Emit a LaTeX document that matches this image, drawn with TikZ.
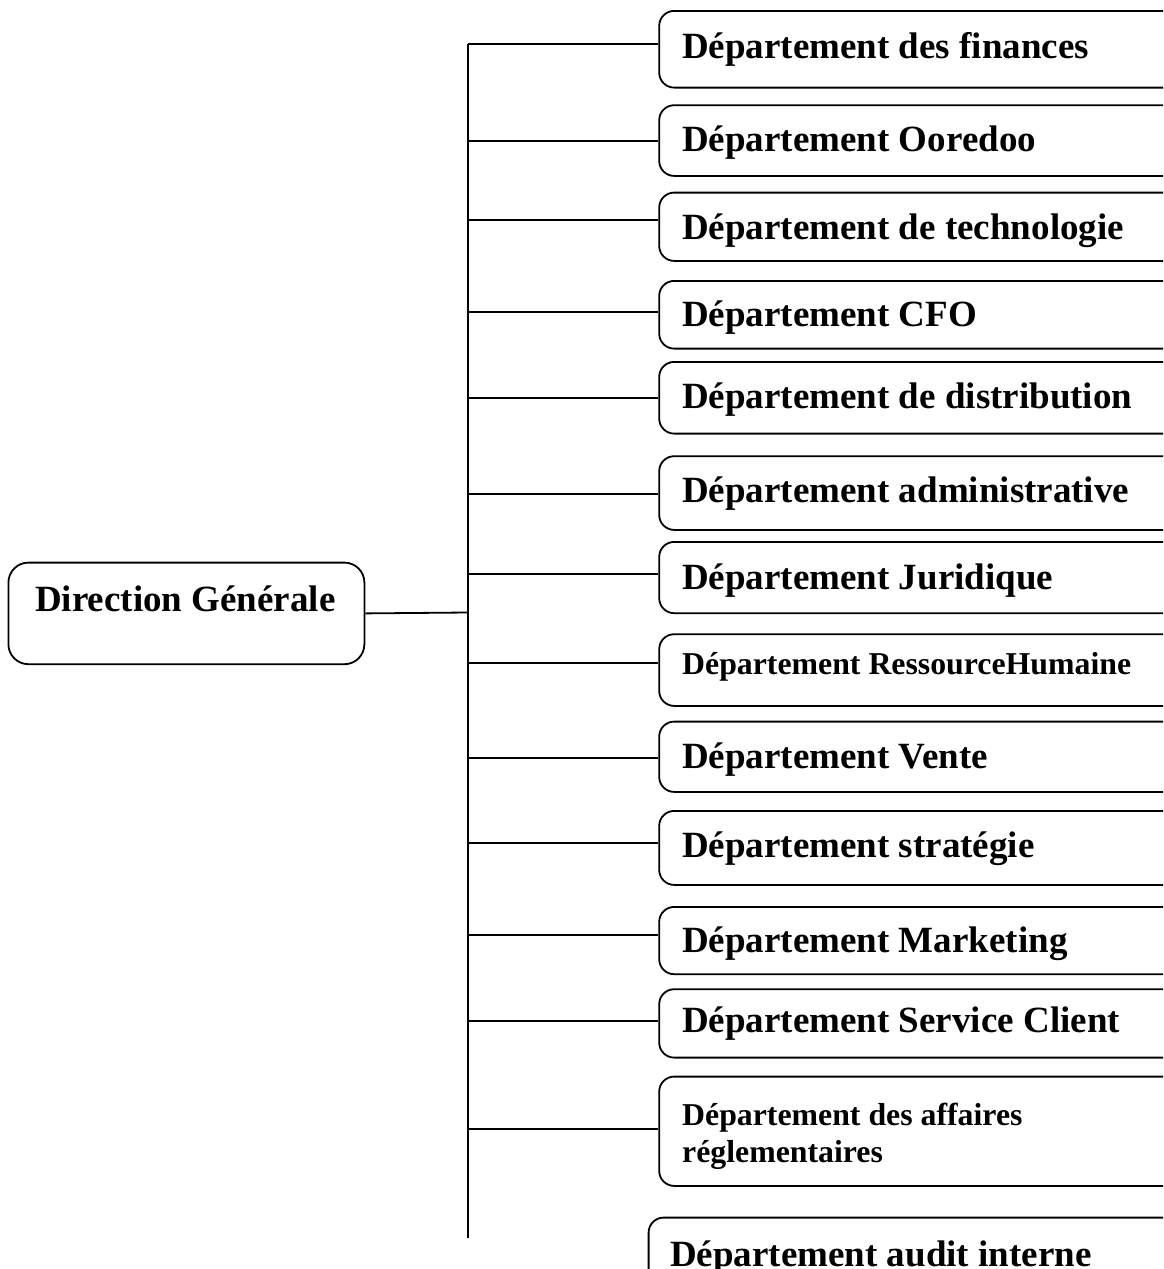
\documentclass[tikz,border=0pt]{standalone}
\usepackage{fontspec}
\setmainfont{Liberation Serif}
\usetikzlibrary{calc}
\tikzset{
  dept/.style={draw, line width=1.8pt, rounded corners=15pt, inner sep=0pt, anchor=north west, minimum width=600pt},
  dirbox/.style={draw, line width=1.8pt, rounded corners=20pt, inner sep=0pt, anchor=north west, minimum width=356pt, minimum height=101.6pt},
  bigtxt/.style={inner sep=0pt, anchor=base west, font=\fontsize{37}{42}\selectfont\bfseries},
  smalltxt/.style={inner sep=0pt, anchor=base west, align=left, font=\fontsize{31.8}{36.7}\selectfont\bfseries},
  conn/.style={line width=1.8pt},
  trunkline/.style={line width=2.2pt}
}
\begin{document}
\begin{tikzpicture}[x=1pt,y=-1pt]
\useasboundingbox (0,0) rectangle (1163,1269);
\clip (0,0) rectangle (1163,1269);
\fill[white] (0,0) rectangle (1163,1269);

% Direction Generale
\node[dirbox] (dg) at (7.5,561.7) {};
\node[bigtxt] (dgt) at (35,611.7) {Direction Générale};

% trunk
\coordinate (ttop) at (467.7,44);
\coordinate (tbot) at (467.7,1238.3);
\coordinate (tdg) at (467.7,612.5);
\draw[trunkline] (ttop) -- (tbot);
\draw[conn] (dg.east) -- (tdg);

% departments: top, height, connector y, text baseline
\foreach \i/\top/\h/\cy/\bl/\txt in {
  1/10/76.7/44/58/{Département des finances},
  2/104.3/70.7/140.7/151/{Département Ooredoo},
  3/191.7/68.3/220/239/{Département de technologie},
  4/280/67.7/312.3/326/{Département CFO},
  5/361/71.7/398.3/408/{Département de distribution},
  6/455.3/73.7/494/502/{Département administrative},
  7/541/71.3/574/589/{Département Juridique},
  9/720.7/70.3/757.7/768/{Département Vente},
  10/810/74/843.3/857/{Département stratégie},
  11/906/67.3/935.3/952/{Département Marketing},
  12/988.3/68.4/1020.7/1032/{Département Service Client}}
{
  \node[dept, minimum height=\h pt] (b\i) at (658.3,\top) {};
  \node[bigtxt] (l\i) at (682,\bl) {\txt};
  \coordinate (t\i) at (467.7,\cy);
  \draw[conn] (t\i) -- (t\i -| b\i.west);
}

% Ressource Humaine (smaller text)
\node[dept, minimum height=71.7pt] (b8) at (658.3,633.3) {};
\node[smalltxt] (l8) at (682,674) {Département RessourceHumaine};
\coordinate (t8) at (467.7,663.3);
\draw[conn] (t8) -- (t8 -| b8.west);

% affaires reglementaires (two lines; base = last line)
\node[dept, minimum height=109.3pt] (b13) at (658.3,1075.7) {};
\node[smalltxt] (l13) at (682,1162) {Département des affaires\\réglementaires};
\coordinate (t13) at (467.7,1129);
\draw[conn] (t13) -- (t13 -| b13.west);

% audit interne (no connector)
\node[dept, minimum height=100pt] (b14) at (647.7,1216.7) {};
\node[bigtxt] (l14) at (670,1266.7) {Département audit interne};
\end{tikzpicture}
\end{document}
